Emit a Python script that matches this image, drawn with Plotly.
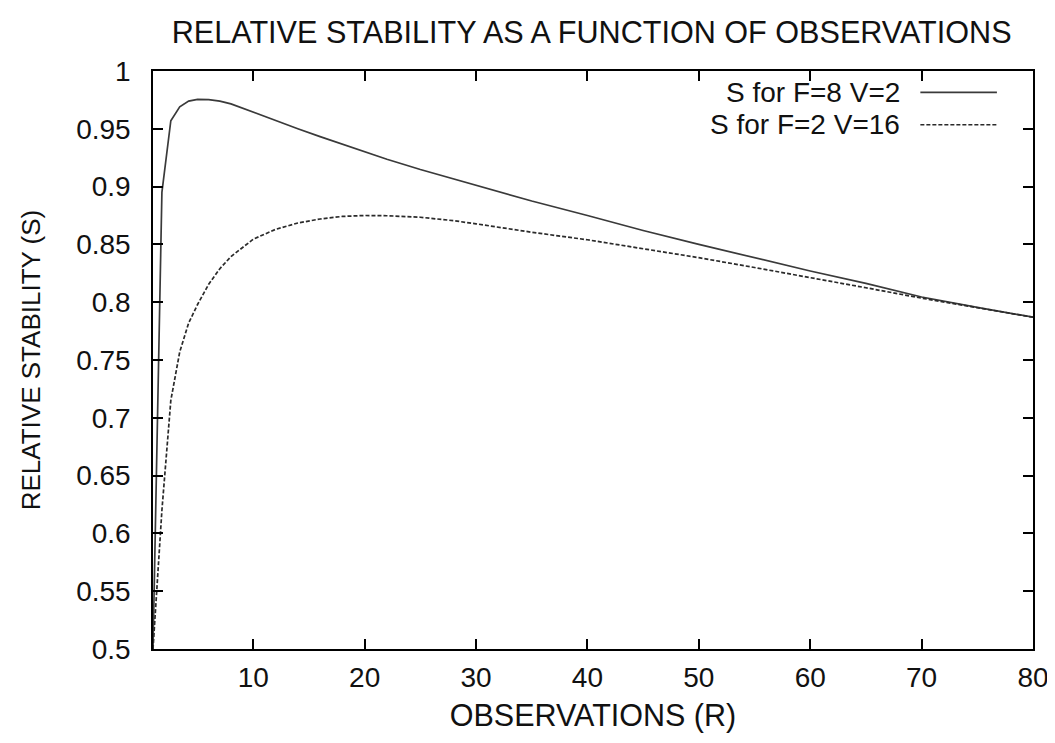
import plotly.graph_objects as go

# Observations (R)
r_values = [1, 1.8, 2.6, 3.4, 4.2, 5, 6, 7, 8, 10, 12, 14, 16, 18, 20, 22, 25, 28, 30,
            35, 40, 45, 50, 55, 60, 65, 70, 75, 80]
# S for F=8 V=2
s_f8_v2 = [0.5, 0.895, 0.957, 0.969, 0.974, 0.9755, 0.9753, 0.9740, 0.9716, 0.9642,
           0.9570, 0.9500, 0.9432, 0.9365, 0.9300, 0.9237, 0.9148, 0.9065, 0.9012,
           0.8875, 0.875, 0.862, 0.850, 0.8385, 0.827, 0.8163, 0.8045, 0.7955, 0.787]
# S for F=2 V=16
s_f2_v16 = [0.5, 0.62, 0.715, 0.757, 0.782, 0.798, 0.8155, 0.829, 0.8395, 0.8545,
            0.863, 0.8685, 0.872, 0.8742, 0.875, 0.8748, 0.8735, 0.8705, 0.8678,
            0.8605, 0.854, 0.8465, 0.8385, 0.830, 0.8215, 0.8125, 0.8035, 0.795, 0.787]

series_names = ["S for F=8 V=2", "S for F=2 V=16"]
x_ticks = [10, 20, 30, 40, 50, 60, 70, 80]
y_ticks = [0.5, 0.55, 0.6, 0.65, 0.7, 0.75, 0.8, 0.85, 0.9, 0.95, 1]
y_tick_text = ["0.5", "0.55", "0.6", "0.65", "0.7", "0.75", "0.8", "0.85", "0.9", "0.95", "1"]

FONT = "Liberation Sans, Arial, sans-serif"
dashes = ["solid", "4px,2px"]
colors = ["#3a3a3a", "#2a2a2a"]

fig = go.Figure()
for name, ys, dash, col in zip(series_names, [s_f8_v2, s_f2_v16], dashes, colors):
    fig.add_trace(go.Scatter(x=r_values, y=ys, mode="lines", name=name,
                             line=dict(color=col, width=1.7, dash=dash),
                             showlegend=False))

# gnuplot-style legend: text on the left, line sample on the right
for i, (name, dash, col) in enumerate(zip(series_names, dashes, colors)):
    yp = 0.963 - i * 0.056
    fig.add_annotation(xref="paper", yref="paper", x=0.851, y=yp, text=name,
                       showarrow=False, xanchor="right", yanchor="middle",
                       font=dict(family=FONT, size=28, color="#111"))
    fig.add_shape(type="line", xref="paper", yref="paper",
                  x0=0.872, x1=0.959, y0=yp, y1=yp,
                  line=dict(color=col, width=1.7, dash=dash))

axis_common = dict(showgrid=False, zeroline=False, showline=True, mirror="ticks",
                   linecolor="black", linewidth=1.5, ticks="inside", ticklen=10,
                   tickwidth=1.5, tickcolor="black", automargin=False,
                   tickfont=dict(family=FONT, size=28, color="#111"))

fig.update_xaxes(range=[1, 80], tickvals=x_ticks, ticklabelstandoff=3,
                 title=dict(text="OBSERVATIONS (R)", font=dict(family=FONT, size=30.5, color="#111"),
                            standoff=12),
                 **axis_common)
fig.update_yaxes(range=[0.5, 1], tickvals=y_ticks, ticktext=y_tick_text, ticklabelstandoff=15,
                 title=dict(text="RELATIVE STABILITY (S)", font=dict(family=FONT, size=26, color="#111"),
                            standoff=28),
                 **axis_common)

# page body has an 8px margin: size the figure so the plot lands where the reference has it
fig.update_layout(
    width=1047, height=735,
    margin=dict(l=145, r=22, t=63, b=94),
    paper_bgcolor="white", plot_bgcolor="white",
    title=dict(text="RELATIVE STABILITY AS A FUNCTION OF OBSERVATIONS",
               font=dict(family=FONT, size=30.6, color="#111"),
               x=0.5575, xanchor="center", y=0.967, yanchor="middle"),
)

fig.write_html("out.html")
